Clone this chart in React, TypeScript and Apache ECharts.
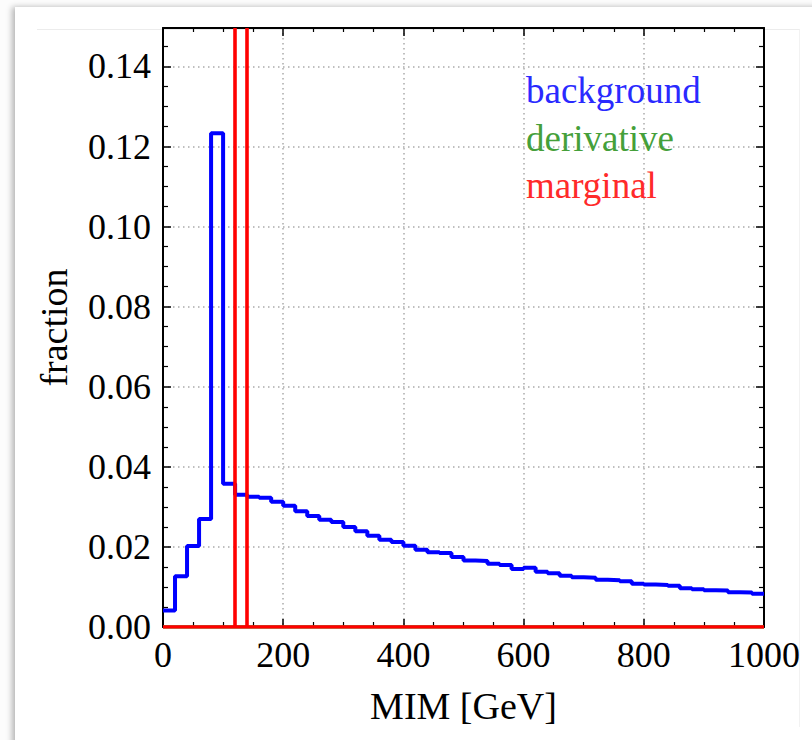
import React, { useEffect, useRef } from "react";
import * as echarts from "echarts";

// histogram bin left edges (GeV), bin width 20
const binEdges = [
  0, 20, 40, 60, 80, 100, 120, 140, 160, 180,
  200, 220, 240, 260, 280, 300, 320, 340, 360, 380,
  400, 420, 440, 460, 480, 500, 520, 540, 560, 580,
  600, 620, 640, 660, 680, 700, 720, 740, 760, 780,
  800, 820, 840, 860, 880, 900, 920, 940, 960, 980,
];
const xMaxEdge = 1000;

const backgroundValues = [
  0.0041, 0.0127, 0.0202, 0.027, 0.1233, 0.0358, 0.033, 0.0325, 0.0323, 0.0313,
  0.0303, 0.0289, 0.0277, 0.0268, 0.0262, 0.025, 0.0239, 0.0228, 0.0218, 0.0212,
  0.0203, 0.0193, 0.0187, 0.0185, 0.0175, 0.0166, 0.0165, 0.0158, 0.0155, 0.0145,
  0.0148, 0.0138, 0.0134, 0.0128, 0.0124, 0.0123, 0.0118, 0.0117, 0.0114, 0.0108,
  0.0106, 0.0105, 0.0103, 0.0097, 0.0094, 0.0092, 0.0091, 0.0087, 0.0086, 0.0083,
];

const derivativeValues = [
  0, 0, 0, 0, 0, 0, 0, 0, 0, 0,
  0, 0, 0, 0, 0, 0, 0, 0, 0, 0,
  0, 0, 0, 0, 0, 0, 0, 0, 0, 0,
  0, 0, 0, 0, 0, 0, 0, 0, 0, 0,
  0, 0, 0, 0, 0, 0, 0, 0, 0, 0,
];

const marginalValues = [
  0, 0, 0, 0, 0, 0, 0, 0, 0, 0,
  0, 0, 0, 0, 0, 0, 0, 0, 0, 0,
  0, 0, 0, 0, 0, 0, 0, 0, 0, 0,
  0, 0, 0, 0, 0, 0, 0, 0, 0, 0,
  0, 0, 0, 0, 0, 0, 0, 0, 0, 0,
];

// marginal cut positions (GeV)
const marginalCuts = [120, 140];

const seriesNames = ["background", "derivative", "marginal"];
const seriesColors = ["#0000ff", "#3c9c2c", "#ff0000"];
const legendColors = ["#2a2aff", "#45a03a", "#ff2a2a"];

const yTickLabels = ["0.00", "0.02", "0.04", "0.06", "0.08", "0.10", "0.12", "0.14"];

const FONT = "'Liberation Serif', 'Times New Roman', serif";

function stepData(values: number[]) {
  const pts = binEdges.map((e, i) => [e, values[i]]);
  pts.push([xMaxEdge, values[values.length - 1]]);
  return pts;
}

export default function App() {
  const ref = useRef<HTMLDivElement>(null);

  useEffect(() => {
    if (!ref.current) return;
    const chart = echarts.init(ref.current, undefined, { renderer: "svg" });
    const axisLine = { show: true, onZero: false, lineStyle: { color: "#000", width: 2 } };
    const tick = { show: true, inside: true, length: 8, lineStyle: { color: "#000", width: 1.5 } };
    const minor = { show: true, splitNumber: 4, length: 5, lineStyle: { color: "#000", width: 1.2 } };
    const grid = { show: true, lineStyle: { color: "#aaaaaa", width: 1.5, type: [1.5, 3.5] as any } };

    const valuesList = [backgroundValues, derivativeValues, marginalValues];

    chart.setOption({
      animation: false,
      backgroundColor: "transparent",
      grid: { left: 163, right: 48, top: 28, bottom: 113, containLabel: false },
      legend: {
        show: true,
        orient: "vertical",
        left: 516,
        top: 67,
        icon: "none",
        itemWidth: 0,
        itemHeight: 30,
        itemGap: 10.5,
        selectedMode: false,
        textStyle: { fontFamily: FONT, fontSize: 37, lineHeight: 34 },
        data: seriesNames.map((n, i) => ({
          name: n,
          textStyle: { color: legendColors[i], fontFamily: FONT, fontSize: 37, lineHeight: 34 },
        })),
      },
      xAxis: [
        {
          type: "value",
          position: "bottom",
          min: 0,
          max: 1000,
          interval: 200,
          name: "MIM [GeV]",
          nameLocation: "middle",
          nameGap: 60,
          nameTextStyle: { fontFamily: FONT, fontSize: 38, color: "#000" },
          axisLine,
          axisTick: tick,
          minorTick: minor,
          splitLine: grid,
          axisLabel: {
            fontFamily: FONT,
            fontSize: 36,
            color: "#000",
            margin: 10,
            formatter: (v: number) => String(Math.round(v)),
          },
        },
        {
          type: "value",
          position: "top",
          min: 0,
          max: 1000,
          interval: 200,
          axisLine,
          axisTick: tick,
          minorTick: { ...minor, length: 4 },
          splitLine: { show: false },
          axisLabel: { show: false },
        },
      ],
      yAxis: [
        {
          type: "value",
          position: "left",
          min: 0,
          max: 0.1496,
          interval: 0.02,
          name: "fraction",
          nameLocation: "middle",
          nameGap: 90,
          nameTextStyle: { fontFamily: FONT, fontSize: 38, color: "#000" },
          axisLine,
          axisTick: tick,
          minorTick: minor,
          splitLine: grid,
          axisLabel: {
            fontFamily: FONT,
            fontSize: 36,
            color: "#000",
            margin: 12,
            formatter: (v: number) => {
              const idx = Math.round(v / 0.02);
              return Math.abs(v - idx * 0.02) < 1e-6 && idx < yTickLabels.length ? yTickLabels[idx] : "";
            },
          },
        },
        {
          type: "value",
          position: "right",
          min: 0,
          max: 0.1496,
          interval: 0.02,
          axisLine,
          axisTick: tick,
          minorTick: minor,
          splitLine: { show: false },
          axisLabel: { show: false },
        },
      ],
      series: seriesNames.map((n, i) => ({
        name: n,
        type: "line",
        step: "end",
        xAxisIndex: 0,
        yAxisIndex: 0,
        symbol: "none",
        clip: true,
        color: seriesColors[i],
        lineStyle: { color: seriesColors[i], width: i === 0 ? 4 : 3.6 },
        data: stepData(valuesList[i]),
        z: 2 + i,
        markLine:
          n === "marginal"
            ? {
                silent: true,
                symbol: "none",
                label: { show: false },
                lineStyle: { color: seriesColors[i], width: 3.6, type: "solid" },
                data: marginalCuts.map((c) => ({ xAxis: c })),
              }
            : undefined,
      })),
    });
    return () => chart.dispose();
  }, []);

  return (
    <div style={{ position: "fixed", left: 0, top: 0, width: 812, height: 740, background: "#fcfcfc", overflow: "hidden" }}>
      <div
        style={{
          position: "absolute",
          left: 15,
          top: 7,
          width: 820,
          height: 760,
          background: "#ffffff",
          boxShadow: "-3px 0 6px rgba(0,0,0,0.28)",
        }}
      />
      <div
        style={{
          position: "absolute",
          left: 37,
          top: 29,
          width: 762,
          height: 697,
          borderTop: "1px solid #ececec",
          borderBottom: "1px solid #ececec",
          borderRight: "1px solid #f2f2f2",
        }}
      />
      <div ref={ref} style={{ position: "absolute", left: 0, top: 0, width: 812, height: 740, zIndex: 1 }} />
      <div
        style={{
          position: "absolute",
          left: 17,
          top: 727,
          width: 800,
          height: 13,
          background: "#ffffff",
          zIndex: 2,
        }}
      />
    </div>
  );
}
